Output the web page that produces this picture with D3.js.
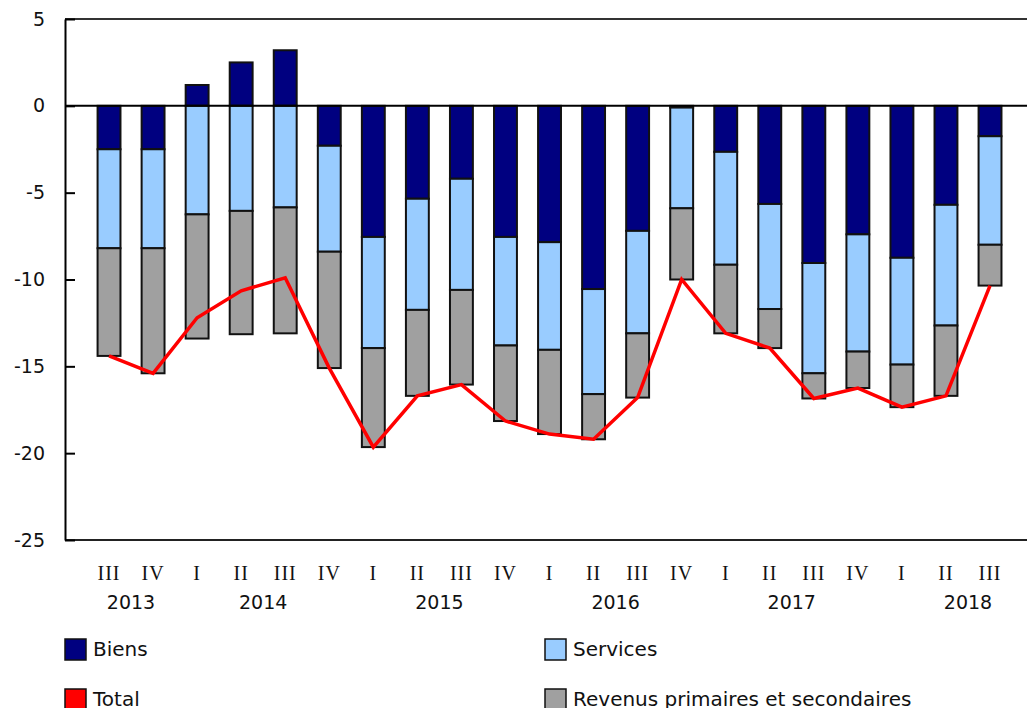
<!DOCTYPE html>
<html>
<head>
<meta charset="utf-8">
<script src="https://cdn.jsdelivr.net/npm/d3@7"></script>
<style>
  body { margin: 0; background: #fff; }
  svg { display: block; }
</style>
</head>
<body>
<svg id="chart" width="1027" height="708"></svg>
<script>
// trimestres
var quarters = ['III','IV','I','II','III','IV','I','II','III','IV','I','II','III','IV','I','II','III','IV','I','II','III'];
var years    = ['2013','2013','2014','2014','2014','2014','2015','2015','2015','2015','2016','2016','2016','2016','2017','2017','2017','2017','2018','2018','2018'];

// milliards de dollars
var biens    = [-2.5,-2.5,1.2,2.5,3.2,-2.3,-7.55,-5.35,-4.2,-7.55,-7.85,-10.55,-7.2,-0.1,-2.65,-5.65,-9.05,-7.4,-8.75,-5.7,-1.75];
var services = [-5.7,-5.7,-6.25,-6.05,-5.85,-6.1,-6.4,-6.4,-6.4,-6.25,-6.2,-6.05,-5.9,-5.8,-6.5,-6.05,-6.35,-6.75,-6.15,-6.95,-6.25];
var revenus  = [-6.2,-7.2,-7.15,-7.1,-7.25,-6.7,-5.7,-4.95,-5.45,-4.35,-4.85,-2.6,-3.7,-4.1,-3.95,-2.25,-1.45,-2.1,-2.45,-4.05,-2.35];
var total    = [-14.4,-15.4,-12.2,-10.65,-9.9,-15.1,-19.65,-16.7,-16.05,-18.15,-18.9,-19.2,-16.8,-10.0,-13.1,-13.95,-16.85,-16.25,-17.35,-16.7,-10.35];

var yTicks = [5,0,-5,-10,-15,-20,-25];

var series = [
  {key:'biens', label:'Biens', color:'#000080', values:biens},
  {key:'services', label:'Services', color:'#99ccff', values:services},
  {key:'revenus', label:'Revenus primaires et secondaires', color:'#a0a0a0', values:revenus}
];

var svg = d3.select('#chart');
var plotLeft = 65, plotTop = 19, plotBottom = 540, plotRight = 1027;

var rows = quarters.map(function(q, i) {
  var r = {i: i};
  series.forEach(function(s) { r[s.key] = s.values[i]; });
  return r;
});

var x = d3.scaleBand()
  .domain(d3.range(quarters.length))
  .range([87, 87 + 44.05 * quarters.length])
  .paddingInner(0.48)
  .paddingOuter(0.24);

var y = d3.scaleLinear().domain([-25, 5]).range([plotBottom, plotTop]);

var stack = d3.stack()
  .keys(series.map(function(s) { return s.key; }))
  .offset(d3.stackOffsetDiverging);
var stacked = stack(rows);

// cadre
svg.append('line').attr('x1', plotLeft).attr('x2', plotRight).attr('y1', plotTop).attr('y2', plotTop)
  .attr('stroke', '#333').attr('stroke-width', 2);
svg.append('line').attr('x1', plotLeft).attr('x2', plotRight).attr('y1', plotBottom).attr('y2', plotBottom)
  .attr('stroke', '#222').attr('stroke-width', 2);

// axe y
var yAxis = d3.axisLeft(y).tickValues(yTicks).tickSize(0).tickPadding(20).tickFormat(function(d) { return String(d); });
var gy = svg.append('g').attr('transform', 'translate(' + plotLeft + ',0)').call(yAxis);
gy.select('.domain').attr('stroke', '#000').attr('stroke-width', 2);
gy.selectAll('text').attr('font-family', 'DejaVu Sans, Verdana, sans-serif').attr('font-size', 19).attr('fill', '#111');
gy.selectAll('.tick').append('line').attr('x1', 0).attr('x2', 10).attr('stroke', '#000').attr('stroke-width', 2);

// barres
stacked.forEach(function(layer, k) {
  svg.append('g').selectAll('rect').data(layer).enter().append('rect')
    .attr('x', function(d) { return x(d.data.i); })
    .attr('width', x.bandwidth())
    .attr('y', function(d) { return y(Math.max(d[0], d[1])); })
    .attr('height', function(d) { return Math.abs(y(d[0]) - y(d[1])); })
    .attr('fill', series[k].color)
    .attr('stroke', '#111')
    .attr('stroke-width', 2);
});

// ligne zéro
svg.append('line').attr('x1', plotLeft).attr('x2', plotRight).attr('y1', y(0)).attr('y2', y(0))
  .attr('stroke', '#000').attr('stroke-width', 2);

// total
var line = d3.line()
  .x(function(d, i) { return x(i) + x.bandwidth() / 2; })
  .y(function(d) { return y(d); });
svg.append('path').datum(total).attr('d', line)
  .attr('fill', 'none').attr('stroke', '#ff0000').attr('stroke-width', 3.5).attr('stroke-linejoin', 'miter');

// étiquettes x
svg.append('g').selectAll('text').data(quarters).enter().append('text')
  .attr('x', function(d, i) { return x(i) + x.bandwidth() / 2; })
  .attr('y', 580)
  .attr('text-anchor', 'middle')
  .attr('font-family', 'Liberation Serif, Times New Roman, serif')
  .attr('font-size', 20)
  .attr('letter-spacing', 1)
  .attr('fill', '#111')
  .text(function(d) { return d; });

var yearGroups = d3.groups(d3.range(years.length), function(i) { return years[i]; });
svg.append('g').selectAll('text').data(yearGroups).enter().append('text')
  .attr('x', function(g) {
    var idx = g[1];
    var q2 = idx.filter(function(i) { return quarters[i] === 'II' || quarters[i] === 'III'; });
    var use = q2.length === 2 ? q2 : idx;
    return d3.mean(use, function(i) { return x(i) + x.bandwidth() / 2; });
  })
  .attr('y', 609)
  .attr('text-anchor', 'middle')
  .attr('font-family', 'DejaVu Sans, Verdana, sans-serif')
  .attr('font-size', 19)
  .attr('fill', '#111')
  .text(function(g) { return g[0]; });

// légende
var legendItems = [
  {label:'Biens', color:'#000080', col:0, row:0},
  {label:'Services', color:'#99ccff', col:1, row:0},
  {label:'Total', color:'#ff0000', col:0, row:1},
  {label:'Revenus primaires et secondaires', color:'#a0a0a0', col:1, row:1}
];
var lg = svg.append('g').selectAll('g').data(legendItems).enter().append('g')
  .attr('transform', function(d) { return 'translate(' + (d.col ? 545 : 65) + ',' + (639 + d.row * 50) + ')'; });
lg.append('rect').attr('width', 21).attr('height', 21)
  .attr('fill', function(d) { return d.color; }).attr('stroke', '#111').attr('stroke-width', 1.5);
lg.append('text').attr('x', 28).attr('y', 17)
  .attr('font-family', 'DejaVu Sans, Verdana, sans-serif').attr('font-size', 20).attr('fill', '#111')
  .text(function(d) { return d.label; });
</script>
</body>
</html>
